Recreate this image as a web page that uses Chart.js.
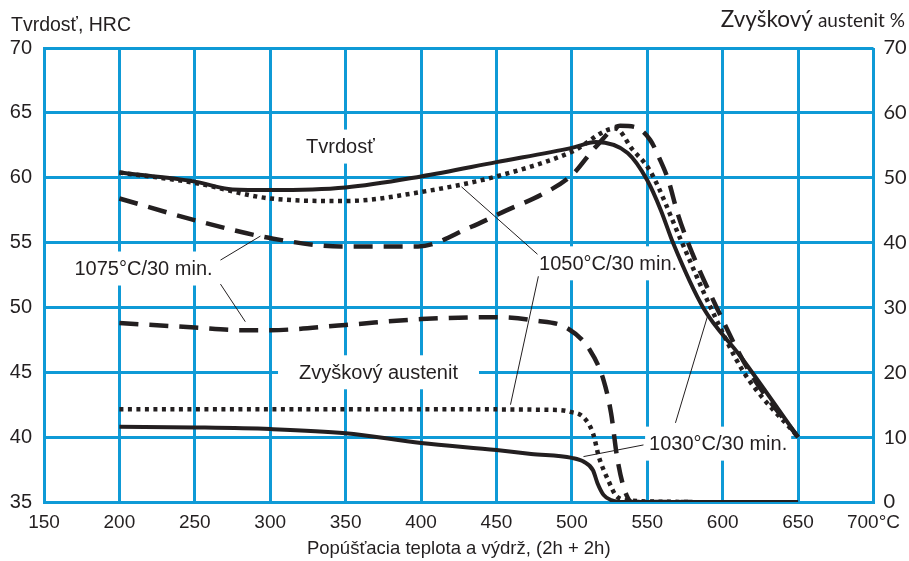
<!DOCTYPE html>
<html>
<head>
<meta charset="utf-8">
<script src="https://cdn.jsdelivr.net/npm/chart.js@4.4.1/dist/chart.umd.min.js"></script>
<style>
  html, body { margin: 0; padding: 0; background: #fff; }
  #wrap { width: 909px; height: 561px; }
</style>
</head>
<body>
<div id="wrap"><canvas id="chart" width="909" height="561"></canvas></div>
<script>
/* Tvrdosť a zvyškový austenit podľa popúšťacej teploty */

const GRID_BLUE = "#0f9ad6";
const INK       = "#231f20";
const SANS      = "'Liberation Sans', Arial, Helvetica, sans-serif";
const HUMANIST  = "Lato, 'Open Sans', sans-serif";

/* ── Axes ──────────────────────────────────────────────── */
const tempTicks = [150, 700, 50];   // min, max, step (°C)
const hrcTicks  = [35, 70, 5];      // left axis, HRC
const austTicks = [0, 70, 10];      // right axis, %

/* ── Tvrdosť (HRC) ─────────────────────────────────────── */
const hrc1030T = [200, 250, 275, 300, 350, 400, 450, 500, 516, 537, 550, 559, 567, 587, 612, 650];
const hrc1030  = [60.4, 59.7, 59.1, 59.05, 59.25, 60.1, 61.2, 62.3, 62.75, 61.9, 59.8, 57.5, 55.0, 50.0, 46.2, 40.0];

const hrc1050T = [200, 250, 300, 350, 400, 450, 500, 529, 540, 552, 573, 592, 614, 650];
const hrc1050  = [60.4, 59.6, 58.4, 58.2, 58.9, 60.1, 62.0, 63.8, 62.2, 60.5, 55.0, 50.0, 45.0, 40.0];

const hrc1075T = [200, 254, 302, 347, 398, 433, 457, 480, 500, 516, 532, 542, 552, 558, 564, 570, 577, 596, 618, 650];
const hrc1075  = [58.4, 56.6, 55.3, 54.7, 54.7, 56.2, 57.5, 58.7, 60.2, 62.4, 64.0, 63.9, 62.9, 61.5, 59.8, 57.3, 55.0, 50.0, 45.0, 40.0];

/* ── Zvyškový austenit (%) ─────────────────────────────── */
const aust1030T = [200, 250, 300, 350, 400, 450, 473, 500, 508, 514, 517, 521, 526, 534, 650];
const aust1030  = [11.6, 11.5, 11.25, 10.6, 9.1, 8.0, 7.4, 6.8, 6.2, 4.9, 2.9, 1.1, 0.3, 0, 0];

const aust1050T = [200, 300, 400, 490, 499, 508, 514, 518, 524, 530, 539, 580];
const aust1050  = [14.3, 14.3, 14.3, 14.2, 13.9, 13.0, 10.6, 6.9, 3.4, 0.8, 0.2, 0];

const aust1075T = [200, 250, 280, 300, 350, 400, 450, 475, 497, 512, 521, 526, 530, 535, 540, 580];
const aust1075  = [27.6, 26.9, 26.5, 26.5, 27.3, 28.2, 28.5, 28.0, 26.8, 23.4, 18.8, 13.7, 6.9, 1.8, 0, 0];

/* ── Labels in the plot (position in °C / HRC) ─────────── */
const notes = [
  { text: "Tvrdosť",           t: 346.5, h: 62.4, padX: 8  },
  { text: "1075°C/30 min.",    t: 216,   h: 53.0, padX: 7  },
  { text: "1050°C/30 min.",    t: 524,   h: 53.4, padX: 7  },
  { text: "1030°C/30 min.",    t: 597,   h: 39.5, padX: 4  },
  { text: "Zvyškový austenit", t: 371.8, h: 45.0, padX: 21 },
];

// leader lines: [t1, h1, t2, h2]
const leaders = [
  [267, 53.65, 293.5, 55.5],
  [267, 51.8, 283.5, 48.9],
  [426.8, 59.3, 477.2, 54.1],
  [477.8, 52.4, 459.3, 42.5],
  [547.5, 39.4, 507.7, 38.5],
  [568.7, 41.1, 589.9, 49.3],
];

/* ── Helpers ───────────────────────────────────────────── */
function pts(xs, ys) {
  return xs.map((x, i) => ({ x, y: ys[i] }));
}

const SOLID  = [];
const DOTTED = [4, 4.5];
const DASHED = [19, 11];

function series(label, xs, ys, axis, dash) {
  return {
    label,
    data: pts(xs, ys),
    yAxisID: axis,
    borderColor: INK,
    borderWidth: dash === SOLID ? 4 : 4.5,
    borderDash: dash,
    borderCapStyle: "butt",
    pointRadius: 0,
    fill: false,
    cubicInterpolationMode: "monotone",
  };
}

/* ── Plugin: text boxes, leaders, top titles ───────────── */
const notesPlugin = {
  id: "notes",
  beforeDatasetsDraw(chart) {
    const { ctx, scales: { x, y } } = chart;
    ctx.save();
    ctx.font = "20px " + SANS;
    ctx.fillStyle = "#fff";
    notes.forEach(n => {
      const w = ctx.measureText(n.text).width + n.padX * 2;
      const cx = x.getPixelForValue(n.t);
      const cy = y.getPixelForValue(n.h);
      ctx.fillRect(cx - w / 2, cy - 17, w, 34);
    });
    ctx.restore();
  },
  afterDatasetsDraw(chart) {
    const { ctx, scales: { x, y } } = chart;
    ctx.save();
    ctx.strokeStyle = INK;
    ctx.lineWidth = 1;
    leaders.forEach(([t1, h1, t2, h2]) => {
      ctx.beginPath();
      ctx.moveTo(x.getPixelForValue(t1), y.getPixelForValue(h1));
      ctx.lineTo(x.getPixelForValue(t2), y.getPixelForValue(h2));
      ctx.stroke();
    });

    ctx.fillStyle = INK;
    ctx.font = "20px " + SANS;
    ctx.textAlign = "center";
    ctx.textBaseline = "middle";
    notes.forEach(n => {
      ctx.fillText(n.text, x.getPixelForValue(n.t), y.getPixelForValue(n.h) + 1);
    });

    // axis titles on top
    ctx.textBaseline = "alphabetic";
    ctx.textAlign = "left";
    ctx.font = "19.5px " + SANS;
    ctx.fillText("Tvrdosť, HRC", 11, 31);

    ctx.textAlign = "right";
    ctx.font = "19px " + HUMANIST;
    ctx.fillText("austenit %", 905, 27);
    const wA = ctx.measureText("austenit %").width;
    ctx.font = "22.5px " + HUMANIST;
    ctx.fillText("Zvyškový", 905 - wA - 5, 27);
    ctx.restore();
  },
};

/* ── Chart ─────────────────────────────────────────────── */
new Chart(document.getElementById("chart"), {
  type: "line",
  data: {
    datasets: [
      series("1030 HRC",  hrc1030T,  hrc1030,  "y",  SOLID),
      series("1050 HRC",  hrc1050T,  hrc1050,  "y",  DOTTED),
      series("1075 HRC",  hrc1075T,  hrc1075,  "y",  DASHED),
      series("1030 aust", aust1030T, aust1030, "y2", SOLID),
      series("1050 aust", aust1050T, aust1050, "y2", DOTTED),
      series("1075 aust", aust1075T, aust1075, "y2", DASHED),
    ],
  },
  options: {
    responsive: false,
    animation: false,
    layout: { padding: { top: 48, left: 0, right: 0, bottom: 0 } },
    plugins: { legend: { display: false }, tooltip: { enabled: false } },
    scales: {
      x: {
        type: "linear",
        min: tempTicks[0], max: tempTicks[1],
        afterFit: s => { s.height = 59; },
        ticks: {
          stepSize: tempTicks[2],
          color: INK,
          padding: 9,
          maxRotation: 0,
          font: { family: SANS, size: 19 },
          callback: v => (v === 700 ? "700°C" : v),
        },
        grid: { color: GRID_BLUE, lineWidth: 3, drawTicks: false },
        border: { color: GRID_BLUE, width: 3 },
        title: {
          display: true,
          text: "Popúšťacia teplota a výdrž, (2h + 2h)",
          color: INK,
          font: { family: SANS, size: 18.5 },
          padding: { top: 0, bottom: 1 },
        },
      },
      y: {
        position: "left",
        min: hrcTicks[0], max: hrcTicks[1],
        afterFit: s => { s.width = 44; },
        ticks: {
          stepSize: hrcTicks[2],
          color: INK,
          padding: 12,
          font: { family: SANS, size: 20 },
        },
        grid: { color: GRID_BLUE, lineWidth: 3, drawTicks: false },
        border: { color: GRID_BLUE, width: 3 },
      },
      y2: {
        position: "right",
        min: austTicks[0], max: austTicks[1],
        afterFit: s => { s.width = 34; },
        ticks: {
          stepSize: austTicks[2],
          color: INK,
          padding: 10,
          font: { family: HUMANIST, size: 20 },
        },
        grid: { display: false, drawTicks: false },
        border: { display: false },
      },
    },
  },
  plugins: [notesPlugin],
});
</script>
</body>
</html>
